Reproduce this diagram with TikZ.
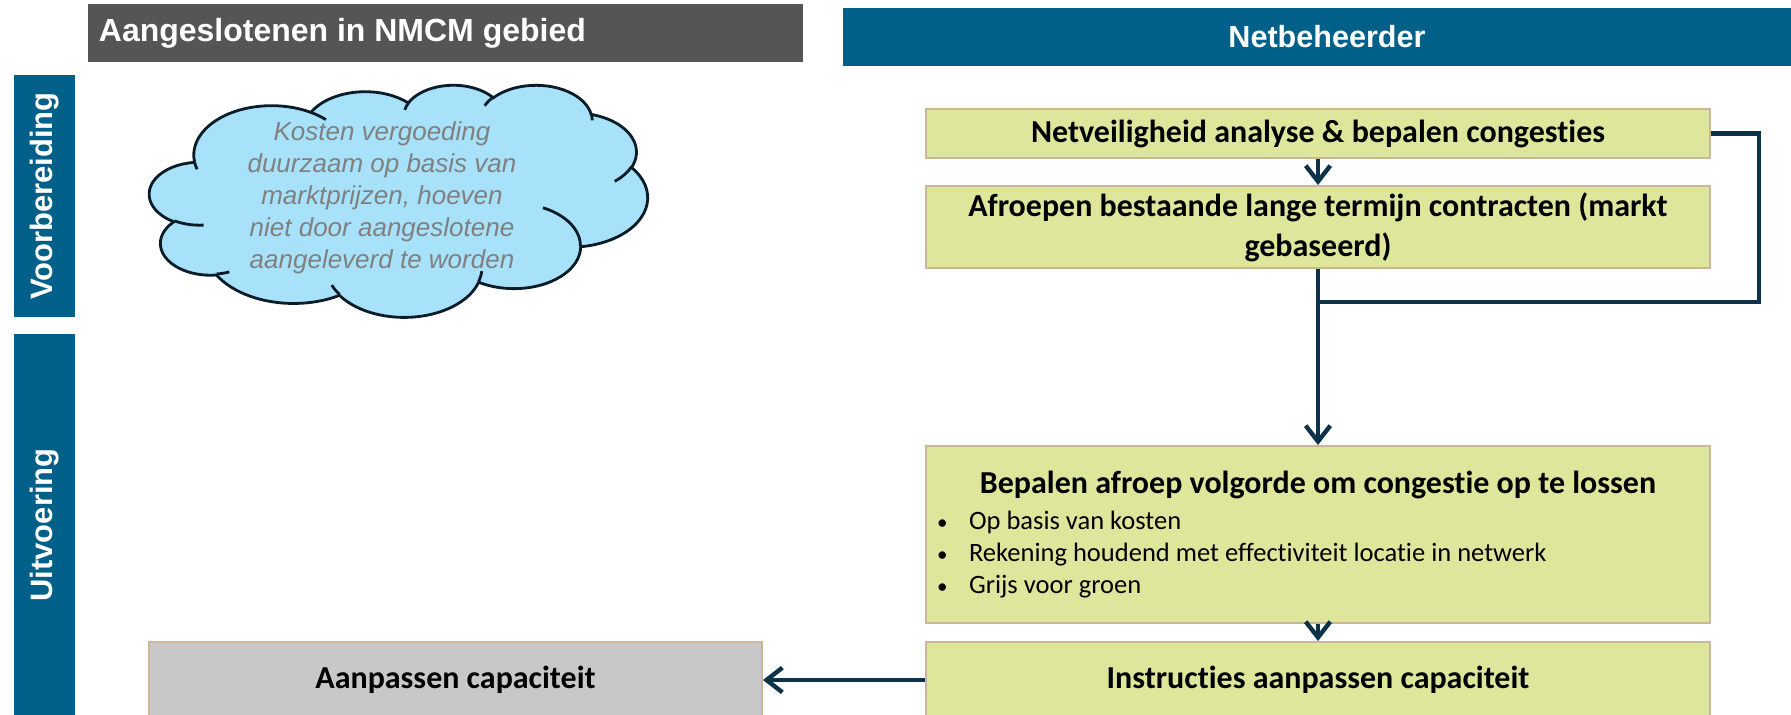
\documentclass[tikz,border=0pt]{standalone}
\usepackage{fontspec}
\setmainfont{Liberation Sans}
\newfontfamily\calibri[Ligatures=NoCommon]{Carlito}
\usetikzlibrary{arrows.meta}

\definecolor{kopgrijs}{RGB}{85,85,85}
\definecolor{netblauw}{RGB}{0,96,137}
\definecolor{lichtgroen}{RGB}{222,230,156}
\definecolor{randbruin}{RGB}{201,183,156}
\definecolor{vakgrijs}{RGB}{200,200,200}
\definecolor{wolkblauw}{RGB}{168,226,250}
\definecolor{pijlblauw}{RGB}{12,51,74}
\definecolor{wolkrand}{RGB}{10,28,40}
\definecolor{tekstgrijs}{RGB}{128,128,128}

\begin{document}
\begin{tikzpicture}[>={Straight Barb[length=9pt,width=14pt]},line width=2.5pt,draw=pijlblauw]
\tikzstyle{every node}=[line width=1.1pt]
\tikzstyle{kop}=[fill=kopgrijs,text=white,minimum height=1.16cm,font=\bfseries\fontsize{18.2}{22}\selectfont]
\tikzstyle{zijbalk}=[fill=netblauw,text=white,rotate=90,minimum height=1.22cm,font=\bfseries\fontsize{17.6}{21}\selectfont]
\tikzstyle{groen}=[draw=randbruin,fill=lichtgroen,minimum width=15.68cm,text width=15.2cm,align=flush center,font=\calibri\bfseries\fontsize{18.2}{22.8}\selectfont]
\tikzstyle{grijs}=[draw=randbruin,fill=vakgrijs,minimum width=12.26cm,minimum height=1.52cm,font=\calibri\bfseries\fontsize{18.2}{22.8}\selectfont]
\tikzstyle{wolk}=[draw=wolkrand,fill=wolkblauw,line width=1.6pt]
\tikzstyle{wolklijn}=[draw=wolkrand,line width=1.6pt]

\clip (0,0) rectangle (35.82,-14.28);

\node[kop,anchor=west,minimum width=14.30cm,text width=13.86cm,inner sep=0.22cm,align=flush left] (h1) at (1.74,-0.66) {Aangeslotenen in NMCM gebied};
\node[kop,fill=netblauw,minimum width=19.36cm,font=\bfseries\fontsize{17.4}{21}\selectfont] (h2) at (26.54,-0.74) {Netbeheerder};

\node[zijbalk,minimum width=4.84cm] (s1) at (0.89,-3.92) {Voorbereiding};
\node[zijbalk,minimum width=7.64cm] (s2) at (0.89,-10.50) {Uitvoering};

\begin{scope}[shift={(2.99,-1.69)},xscale=0.23056,yscale=-0.10741]
\draw[wolk] (3.9,14.37)
  arc[start angle=-187.746,delta angle=128.075,x radius=6.753,y radius=9.19]
  arc[start angle=-152.019,delta angle=106.566,x radius=5.333,y radius=7.267]
  arc[start angle=-153.488,delta angle=116.161,x radius=4.365,y radius=5.945]
  arc[start angle=-139.706,delta angle=129.495,x radius=4.857,y radius=6.595]
  arc[start angle=-74.762,delta angle=97.969,x radius=5.333,y radius=7.273]
  arc[start angle=-37.596,delta angle=119.455,x radius=6.775,y radius=9.22]
  arc[start angle=0.460,delta angle=121.512,x radius=5.785,y radius=7.867]
  arc[start angle=16.843,delta angle=129.406,x radius=6.752,y radius=9.215]
  arc[start angle=59.027,delta angle=91.141,x radius=7.72,y radius=10.543]
  arc[start angle=83.302,delta angle=139.78,x radius=4.36,y radius=5.918]
  arc[start angle=120.358,delta angle=143.754,x radius=4.345,y radius=5.945]
  -- cycle;
\draw[wolklijn] (4.693,26.177) arc[start angle=85.543,delta angle=34.815,x radius=4.345,y radius=5.945]
  (6.928,34.899) arc[start angle=68.244,delta angle=15.058,x radius=4.36,y radius=5.918]
  (16.478,39.09) arc[start angle=146.249,delta angle=12.233,x radius=6.752,y radius=9.215]
  (28.827,34.751) arc[start angle=4.738,delta angle=12.105,x radius=6.752,y radius=9.215]
  (34.129,22.954) arc[start angle=-64.005,delta angle=64.465,x radius=5.785,y radius=7.867]
  (41.798,15.354) arc[start angle=23.207,delta angle=26.43,x radius=5.333,y radius=7.273]
  (38.324,5.426) arc[start angle=-10.211,delta angle=11.03,x radius=4.857,y radius=6.595]
  (29.078,3.952) arc[start angle=-156.284,delta angle=16.578,x radius=4.857,y radius=6.595]
  (22.141,4.72) arc[start angle=-167.725,delta angle=14.237,x radius=4.365,y radius=5.945]
  (14.0,5.192) arc[start angle=-59.671,delta angle=13.91,x radius=6.753,y radius=9.19]
  (4.127,15.789) arc[start angle=163.191,delta angle=9.063,x radius=6.753,y radius=9.19];
\end{scope}
\node[text=tekstgrijs,align=center,font=\itshape\fontsize{14.8}{18.2}\selectfont] (ct) at (7.64,-3.96) {Kosten vergoeding\\duurzaam op basis van\\marktprijzen, hoeven\\niet door aangeslotene\\aangeleverd te worden};

\node[groen,minimum height=0.98cm] (b1) at (26.36,-2.67) {Netveiligheid analyse \& bepalen congesties};
\node[groen,minimum height=1.64cm] (b2) at (26.36,-4.54) {Afroepen bestaande lange termijn contracten (markt\\gebaseerd)};
\node[groen,minimum height=3.54cm,inner sep=0.22cm,text width=15.24cm,align=flush left] (b3) at (26.36,-10.69) {{\centering Bepalen afroep volgorde om congestie op te lossen\par}\vspace{2.3pt}
{\mdseries\fontsize{15.1}{18.2}\selectfont
\makebox[0.64cm][l]{\fontsize{12}{12}\selectfont\textbullet}Op basis van kosten\\
\makebox[0.64cm][l]{\fontsize{12}{12}\selectfont\textbullet}Rekening houdend met effectiviteit locatie in netwerk\\
\makebox[0.64cm][l]{\fontsize{12}{12}\selectfont\textbullet}Grijs voor groen\par}};
\node[groen,minimum height=1.52cm] (b4) at (26.36,-13.60) {Instructies aanpassen capaciteit};
\node[grijs] (g1) at (9.11,-13.60) {Aanpassen capaciteit};

\coordinate (k) at (35.18,-6.04);
\coordinate (m) at (26.36,-6.04);

\draw[->] (b1) -- (b2);
\draw (b1.east) -| (k) -- (m);
\draw[->] (b2) -- (b3);
\draw[->] (b3) -- (b4);
\draw[->] (b4) -- (g1);
\end{tikzpicture}
\end{document}
